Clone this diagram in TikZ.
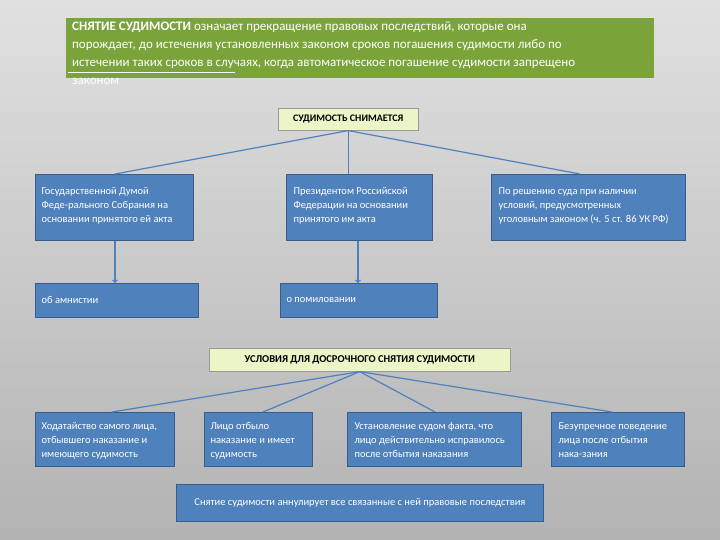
\documentclass[tikz,border=0pt]{standalone}
\usepackage{fontspec}
\setmainfont{Carlito}
\definecolor{bfill}{RGB}{79,129,189}
\definecolor{bdraw}{RGB}{56,93,138}
\definecolor{gfill}{RGB}{122,163,58}
\definecolor{yfill}{RGB}{235,245,200}
\begin{document}
\begin{tikzpicture}[x=1pt,y=-1pt,
  bbox/.style={draw=bdraw, fill=bfill, line width=0.8pt, inner sep=0pt},
  ybox/.style={draw=black!40, fill=yfill, line width=0.6pt},
  btxt/.style={text=white, font=\fontsize{10.5}{14}\selectfont, align=left, anchor=north west},
  conn/.style={draw=bfill, line width=1.2pt}]
\shade[top color=black!12, bottom color=black!30] (0,0) rectangle (720,540);
\useasboundingbox (0,0) rectangle (720,540);
% title
\fill[gfill] (66,18) rectangle (654,78);
\node[text=white, font=\fontsize{13}{18}\selectfont, align=left, anchor=north west, inner sep=0pt] (title) at (72,22)
 {\textbf{СНЯТИЕ СУДИМОСТИ} означает прекращение правовых последствий, которые она\\порождает, до истечения установленных законом сроков погашения судимости либо по\\истечении таких сроков в случаях, когда автоматическое погашение судимости запрещено\\законом};
\draw[white, line width=0.6pt] (68,72) -- (235,72);
% headers
\node[ybox, minimum width=140, minimum height=22, anchor=north west, font=\fontsize{10}{12}\selectfont\bfseries] (h1) at (278,108) {СУДИМОСТЬ СНИМАЕТСЯ};
\node[ybox, minimum width=301, minimum height=23, anchor=north west, font=\fontsize{10.5}{12}\selectfont\bfseries] (h2) at (209,348) {УСЛОВИЯ ДЛЯ ДОСРОЧНОГО СНЯТИЯ СУДИМОСТИ};
% row 1
\node[bbox, minimum width=158, minimum height=66, anchor=north west] (b1) at (35,174) {};
\node[btxt] (t1) at (38,184) {Государственной Думой\\Феде-рального Собрания на\\основании принятого ей акта};
\node[bbox, minimum width=146, minimum height=66, anchor=north west] (b2) at (286,174) {};
\node[btxt] (t2) at (290,184) {Президентом Российской\\Федерации на основании\\принятого им акта};
\node[bbox, minimum width=194, minimum height=66, anchor=north west] (b3) at (491,174) {};
\node[btxt] (t3) at (495,184) {По решению суда при наличии\\условий, предусмотренных\\уголовным законом (ч. 5 ст. 86 УК РФ)};
% row 2
\node[bbox, minimum width=163, minimum height=34, anchor=north west] (a1) at (35,283) {};
\node[btxt, anchor=west] (ta1) at (38,300) {об амнистии};
\node[bbox, minimum width=157, minimum height=34, anchor=north west] (a2) at (280,283) {};
\node[btxt, anchor=west] (ta2) at (283,300) {о помиловании};
% row 3
\node[bbox, minimum width=139, minimum height=54, anchor=north west] (c1) at (35,412) {};
\node[btxt] (tc1) at (38,419) {Ходатайство самого лица,\\отбывшего наказание и\\имеющего судимость};
\node[bbox, minimum width=108, minimum height=54, anchor=north west] (c2) at (204,412) {};
\node[btxt] (tc2) at (207,419) {Лицо отбыло\\наказание и имеет\\судимость};
\node[bbox, minimum width=174, minimum height=54, anchor=north west] (c3) at (347,412) {};
\node[btxt] (tc3) at (351,419) {Установление судом факта, что\\лицо действительно исправилось\\после отбытия наказания};
\node[bbox, minimum width=133, minimum height=54, anchor=north west] (c4) at (551,412) {};
\node[btxt] (tc4) at (555,419) {Безупречное поведение\\лица после отбытия\\нака-зания};
\node[bbox, minimum width=367, minimum height=37, anchor=north west] (d) at (176,484) {};
\node[text=white, font=\fontsize{10.5}{13}\selectfont] (td) at (d.center) {Снятие судимости аннулирует все связанные с ней правовые последствия};
% connectors
\draw[conn] (h1.south) -- (b1.north -| 115,0);
\draw[conn] (h1.south) -- (b2.north -| h1.south);
\draw[conn] (h1.south) -- (b3.north -| 580,0);
\draw[conn, ->] (b1.south -| 115,0) -- (a1.north -| 115,0);
\draw[conn, ->] (b2.south -| 358,0) -- (a2.north -| 358,0);
\draw[conn] (h2.south) -- (c1.north -| 112,0);
\draw[conn] (h2.south) -- (c2.north -| 263,0);
\draw[conn] (h2.south) -- (c3.north -| 435,0);
\draw[conn] (h2.south) -- (c4.north -| 612,0);
\end{tikzpicture}
\end{document}
